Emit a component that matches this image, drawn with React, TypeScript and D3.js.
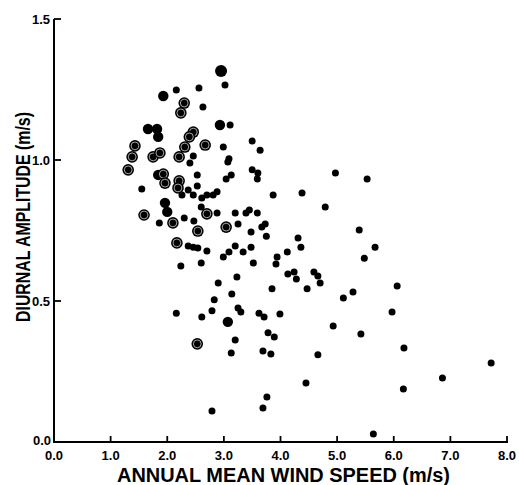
import React from "react";
import * as d3 from "d3";

// small solid dots [wind speed, amplitude]
const smallDots: [number, number][] = [
    [2.16, 1.248], [2.56, 1.255], [3.02, 1.266], [2.63, 1.188], [3.11, 1.124], [2.99, 1.046],
    [3.5, 1.067], [3.64, 1.035], [3.09, 1.004], [2.46, 1.014], [2.4, 0.989], [2.53, 0.947],
    [3.04, 0.933], [3.13, 0.947], [1.55, 0.897], [2.53, 0.908], [2.37, 0.894], [2.26, 0.876],
    [2.46, 0.876], [2.61, 0.865], [2.7, 0.876], [2.81, 0.876], [2.88, 0.887], [3.5, 0.965],
    [3.6, 0.954], [3.59, 0.933], [3.87, 0.876], [4.38, 0.883], [4.79, 0.833], [4.97, 0.954],
    [5.53, 0.933], [2.6, 0.833], [2.88, 0.812], [3.2, 0.812], [3.39, 0.812], [3.45, 0.823],
    [3.59, 0.812], [1.86, 0.777], [2.3, 0.794], [2.47, 0.784], [3.25, 0.773], [3.48, 0.745],
    [3.67, 0.762], [3.73, 0.773], [3.75, 0.73], [4.31, 0.723], [4.36, 0.691], [5.39, 0.752],
    [5.67, 0.691], [5.48, 0.652], [2.37, 0.695], [2.46, 0.691], [2.54, 0.688], [2.7, 0.677],
    [3.09, 0.674], [3.2, 0.695], [3.34, 0.674], [3.48, 0.691], [2.99, 0.656], [3.94, 0.656],
    [4.12, 0.674], [3.52, 0.635], [3.92, 0.631], [2.24, 0.624], [2.6, 0.635], [4.13, 0.596],
    [4.24, 0.603], [4.28, 0.578], [4.59, 0.603], [4.66, 0.589], [4.7, 0.564], [3.23, 0.585],
    [2.9, 0.564], [3.85, 0.543], [4.47, 0.543], [5.11, 0.511], [5.28, 0.532], [6.06, 0.553],
    [5.97, 0.461], [3.14, 0.525], [2.83, 0.504], [2.79, 0.465], [2.16, 0.457], [2.61, 0.443],
    [3.25, 0.475], [3.3, 0.461], [3.62, 0.457], [3.71, 0.443], [3.99, 0.454], [4.93, 0.411],
    [5.42, 0.383], [6.18, 0.333], [3.2, 0.362], [3.13, 0.316], [3.78, 0.387], [3.89, 0.372],
    [3.69, 0.323], [3.83, 0.312], [4.66, 0.309], [4.45, 0.209], [3.76, 0.16], [3.69, 0.121],
    [2.79, 0.11], [7.72, 0.28], [6.86, 0.227], [6.17, 0.188], [5.64, 0.028], [3.07, 0.993],
];

// larger solid dots
const largeDots: [number, number][] = [
    [2.95, 1.316], [1.93, 1.227], [1.66, 1.11], [1.82, 1.11], [1.84, 1.082], [2.93, 1.124],
    [3.07, 0.426], [1.84, 0.947], [1.96, 0.848], [2.0, 0.816],
];

// ringed dots
const ringedDots: [number, number][] = [
    [2.3, 1.202], [2.24, 1.167], [2.46, 1.099], [2.39, 1.082], [2.31, 1.046], [1.43, 1.05],
    [1.38, 1.011], [1.75, 1.011], [1.87, 1.025], [2.21, 1.011], [1.31, 0.965], [1.93, 0.95],
    [1.96, 0.918], [2.21, 0.926], [2.19, 0.901], [1.59, 0.805], [2.7, 0.809], [2.1, 0.777],
    [2.54, 0.748], [3.04, 0.762], [2.17, 0.706], [2.53, 0.348], [2.67, 1.053],
];

const xTicks = [0, 1, 2, 3, 4, 5, 6, 7, 8];
const yTicks = [0, 0.5, 1.0, 1.5];

const font = "'Liberation Sans', Arial, sans-serif";

export default function App() {
    const width = 519;
    const height = 485;
    const x = d3.scaleLinear().domain([0, 8]).range([54, 507]);
    const y = d3.scaleLinear().domain([0, 1.5]).range([442, 19]);

    return (
        <svg
            width={width}
            height={height}
            style={{ position: "absolute", left: 0, top: 0, background: "#fff" }}
        >
            {/* axes */}
            <line x1={x(0)} x2={x(0)} y1={y(1.5)} y2={y(0)} stroke="#000" strokeWidth={2} />
            <line x1={x(0) - 1} x2={x(8) + 1} y1={y(0)} y2={y(0)} stroke="#000" strokeWidth={2} />
            {yTicks.filter((t) => t > 0).map((t) => (
                <g key={"y" + t}>
                    <line x1={x(0)} x2={x(0) + 7} y1={y(t)} y2={y(t)} stroke="#000" strokeWidth={1.8} />
                    <text
                        x={x(0) - 4}
                        y={y(t) + 5}
                        textAnchor="end"
                        fontFamily={font}
                        fontWeight="bold"
                        fontSize={13}
                    >
                        {t.toFixed(1)}
                    </text>
                </g>
            ))}
            <text x={x(0) - 3} y={y(0) + 3} textAnchor="end" fontFamily={font} fontWeight="bold" fontSize={13}>
                0.0
            </text>
            {xTicks.map((t) => (
                <g key={"x" + t}>
                    {t > 0 && (
                        <line x1={x(t)} x2={x(t)} y1={y(0)} y2={y(0) - 6} stroke="#000" strokeWidth={1.8} />
                    )}
                    <text
                        x={x(t)}
                        y={y(0) + 18}
                        textAnchor="middle"
                        fontFamily={font}
                        fontWeight="bold"
                        fontSize={13}
                    >
                        {t.toFixed(1)}
                    </text>
                </g>
            ))}

            {/* axis titles */}
            <text
                x={117}
                y={482}
                fontFamily={font}
                fontWeight="bold"
                fontSize={19.5}
                textLength={333}
                lengthAdjust="spacingAndGlyphs"
            >
                ANNUAL  MEAN  WIND  SPEED (m/s)
            </text>
            <text
                transform="translate(30,322) rotate(-90)"
                x={0}
                y={0}
                fontFamily={font}
                fontWeight="bold"
                fontSize={19.5}
                textLength={210}
                lengthAdjust="spacingAndGlyphs"
            >
                DIURNAL  AMPLITUDE (m/s)
            </text>

            {/* points */}
            <g>
                {smallDots.map((d, i) => (
                    <circle key={"s" + i} cx={x(d[0])} cy={y(d[1])} r={3.5} fill="#000" />
                ))}
            </g>
            <g>
                {largeDots.map((d, i) => (
                    <circle key={"l" + i} cx={x(d[0])} cy={y(d[1])} r={i === 0 ? 6 : 5.2} fill="#000" />
                ))}
            </g>
            <g>
                {ringedDots.map((d, i) => (
                    <g key={"r" + i}>
                        <circle cx={x(d[0])} cy={y(d[1])} r={5.8} fill="#000" />
                        <circle cx={x(d[0])} cy={y(d[1])} r={3.9} fill="none" stroke="#e8e8e8" strokeWidth={0.7} />
                    </g>
                ))}
            </g>
        </svg>
    );
}
